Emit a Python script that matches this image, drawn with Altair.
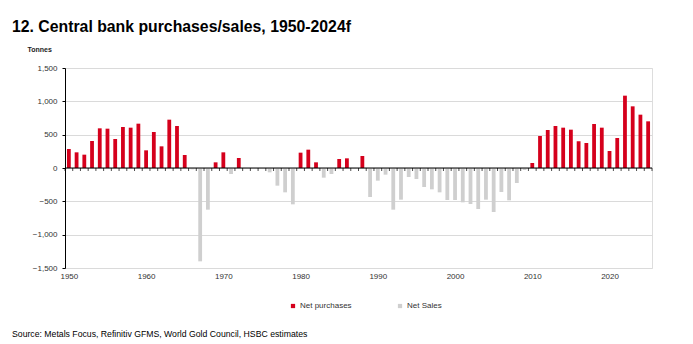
import altair as alt
import pandas as pd

years = list(range(1950, 2026))
tonnes = [
    285, 235, 200, 405, 595, 590, 435, 615, 605, 665,      # 1950s
    265, 540, 325, 725, 630, 195, -20, -1400, -625, 85,    # 1960s
    235, -90, 150, 0, 0, 0, -65, -265, -365, -545,         # 1970s
    230, 275, 85, -145, -90, 135, 145, -10, 180, -435,     # 1980s
    -190, -100, -625, -475, -135, -165, -285, -320, -365, -480,  # 1990s
    -480, -515, -540, -615, -475, -660, -360, -485, -225, -30,   # 2000s
    75, 480, 570, 630, 605, 575, 400, 375, 660, 605,       # 2010s
    255, 450, 1085, 925, 800, 700,                         # 2020s
]
series_names = ["Net purchases", "Net Sales"]
series_colors = ["#D5001C", "#CFCFCF"]
x_labels = [1950, 1960, 1970, 1980, 1990, 2000, 2010, 2020]
y_ticks = [-1500, -1000, -500, 0, 500, 1000, 1500]

title_text = "12. Central bank purchases/sales, 1950-2024f"
unit_text = "Tonnes"
source_text = "Source: Metals Focus, Refinitiv GFMS, World Gold Council, HSBC estimates"

df = pd.DataFrame({"year": years, "tonnes": tonnes})
df["series"] = [series_names[0] if v >= 0 else series_names[1] for v in tonnes]
ticks_df = pd.DataFrame({"edge": [y - 0.5 for y in years] + [years[-1] + 0.5],
                         "zero": 0})
zero_df = pd.DataFrame({"zero": [0]})

FONT = "Liberation Sans"

xscale = alt.Scale(domain=[years[0] - 0.5, years[-1] + 0.5], nice=False, zero=False, padding=0)
yscale = alt.Scale(domain=[-1500, 1500], nice=False, padding=0)

xaxis = alt.Axis(values=x_labels, format="d", title=None, domain=False,
                 ticks=False, grid=False, labelFontSize=8, labelColor="#333333",
                 labelFont=FONT, labelPadding=4, labelOverlap=False)
yaxis = alt.Axis(values=y_ticks, format=",.0f", title=unit_text,
                 titleAngle=0, titleAlign="left", titleBaseline="alphabetic",
                 titleX=-38, titleY=-17, titleFontSize=7, titleFont=FONT,
                 titleFontWeight="bold", titleColor="#222222",
                 domainColor="#000000", domainWidth=1, tickColor="#000000",
                 tickSize=3, gridColor="#DADADA", labelFontSize=8,
                 labelColor="#333333", labelFont=FONT, labelPadding=5,
                 labelOverlap=False)

bars = alt.Chart(df).mark_bar(width=3.8).encode(
    x=alt.X("year:Q", scale=xscale, axis=xaxis),
    y=alt.Y("tonnes:Q", scale=yscale, axis=yaxis),
    color=alt.Color("series:N",
                    scale=alt.Scale(domain=series_names, range=series_colors),
                    legend=alt.Legend(title=None, orient="none", legendX=224, legendY=234,
                                      direction="horizontal", symbolType="square",
                                      symbolSize=18, symbolStrokeWidth=0,
                                      labelFontSize=8, labelFont=FONT, labelColor="#333333",
                                      columnPadding=44, labelOffset=3, padding=0)),
)

zero = alt.Chart(zero_df).mark_rule(color="#000000", strokeWidth=1).encode(
    y=alt.Y("zero:Q", scale=yscale, axis=yaxis))

edge_ticks = alt.Chart(ticks_df).mark_tick(orient="vertical", size=3, thickness=1,
                                           color="#000000", yOffset=1.5).encode(
    x=alt.X("edge:Q", scale=xscale, axis=xaxis),
    y=alt.Y("zero:Q", scale=yscale, axis=yaxis),
)

title = alt.Chart(pd.DataFrame({"t": [title_text]})).mark_text(
    align="left", baseline="alphabetic", fontSize=15.8, fontWeight="bold", font=FONT,
    color="#000000").encode(text="t:N", x=alt.value(-53), y=alt.value(-36))

source = alt.Chart(pd.DataFrame({"t": [source_text]})).mark_text(
    align="left", baseline="alphabetic", fontSize=8.7, font=FONT,
    color="#000000").encode(text="t:N", x=alt.value(-53), y=alt.value(269))

chart = alt.layer(bars, zero, edge_ticks, title, source).properties(
    width=587, height=200,
    autosize=alt.AutoSizeParams(type="none"),
    padding={"left": 65, "top": 68, "right": 41, "bottom": 76},
).configure_view(stroke=None).configure(background="white")

chart.save("out.html", embed_options={"renderer": "svg", "actions": False})
